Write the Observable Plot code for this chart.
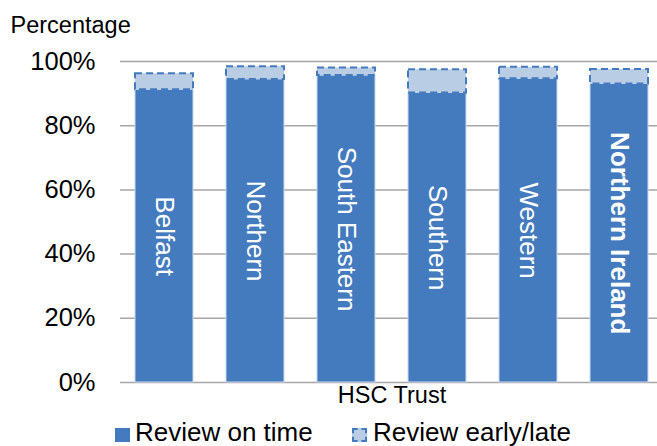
<!DOCTYPE html>
<html><head><meta charset="utf-8">
<script src="https://cdn.jsdelivr.net/npm/d3@7"></script>
<script src="https://cdn.jsdelivr.net/npm/@observablehq/plot@0.6"></script>
<style>
body{margin:0;background:#fff;font-family:"Liberation Sans",Arial,sans-serif;}
#legend{position:relative;height:28px;width:657px;font-size:26px;line-height:26px;color:#000;}
#legend .sw{position:absolute;top:10px;width:15px;height:14px;box-sizing:border-box;}
#legend .lbl{position:absolute;top:1px;white-space:nowrap;}
</style></head><body>
<div id="chart"></div>
<div id="legend"></div>
<script>
const categories = ["Belfast", "Northern", "South Eastern", "Southern", "Western", "Northern Ireland"];
const onTime = [91.2, 94.4, 95.6, 90.2, 94.6, 93.0];
const earlyLate = [5.0, 4.0, 2.4, 7.2, 3.6, 4.5];
const yTicks = [0, 20, 40, 60, 80, 100];
const seriesNames = ["Review on time", "Review early/late"];
const boldCategory = "Northern Ireland";

const data = categories.map((c, i) => ({trust: c, onTime: onTime[i], early: earlyLate[i], total: onTime[i] + earlyLate[i]}));

const dark = "#447bbe", light = "#b9cde5";

const plot = Plot.plot({
  width: 657, height: 418,
  marginLeft: 120, marginRight: -6, marginTop: 61, marginBottom: 36,
  style: {fontFamily: "Liberation Sans, Arial, sans-serif", fontSize: "25px", color: "#000", background: "#fff"},
  x: {domain: categories, paddingInner: 0.367, paddingOuter: 0.16, axis: null},
  y: {domain: [0, 100], axis: null},
  marks: [
    Plot.ruleY(yTicks, {stroke: "#a6a6a6", strokeWidth: 1.5}),
    Plot.axisY(yTicks, {tickSize: 0, tickPadding: 25, tickFormat: d => d + "%", fontSize: 25.5, label: null}),
    Plot.barY(data, {x: "trust", y1: 0, y2: "onTime", fill: dark, stroke: "#c9d8ee", strokeWidth: 1}),
    Plot.barY(data, {x: "trust", y1: "onTime", y2: "total", fill: light, stroke: dark, strokeWidth: 2, strokeDasharray: "7,4"}),
    Plot.text(data.filter(d => d.trust !== boldCategory), {x: "trust", y: d => d.onTime / 2, text: "trust", rotate: 90, fill: "white", fontSize: 26}),
    Plot.text(data.filter(d => d.trust === boldCategory), {x: "trust", y: d => d.onTime / 2, text: "trust", rotate: 90, fill: "white", fontSize: 26, fontWeight: "bold"}),
    Plot.text(["HSC Trust"], {frameAnchor: "bottom", dy: 20, fontSize: 23.5, fill: "#000"}),
    Plot.text(["Percentage"], {frameAnchor: "top-left", dx: -110, dy: -29, textAnchor: "start", lineAnchor: "bottom", fontSize: 23.5, fill: "#000"})
  ]
});
document.getElementById("chart").append(plot);

const legend = document.getElementById("legend");
const items = [
  {name: seriesNames[0], swLeft: 115, txtLeft: 135, style: `background:${dark};`},
  {name: seriesNames[1], swLeft: 352, txtLeft: 373, style: `background:${light};border:2px dashed ${dark};`}
];
for (const it of items) {
  const sw = document.createElement("div");
  sw.className = "sw"; sw.style.cssText = `left:${it.swLeft}px;` + it.style;
  const t = document.createElement("div");
  t.className = "lbl"; t.style.left = it.txtLeft + "px"; t.textContent = it.name;
  legend.append(sw, t);
}
</script>
</body></html>
